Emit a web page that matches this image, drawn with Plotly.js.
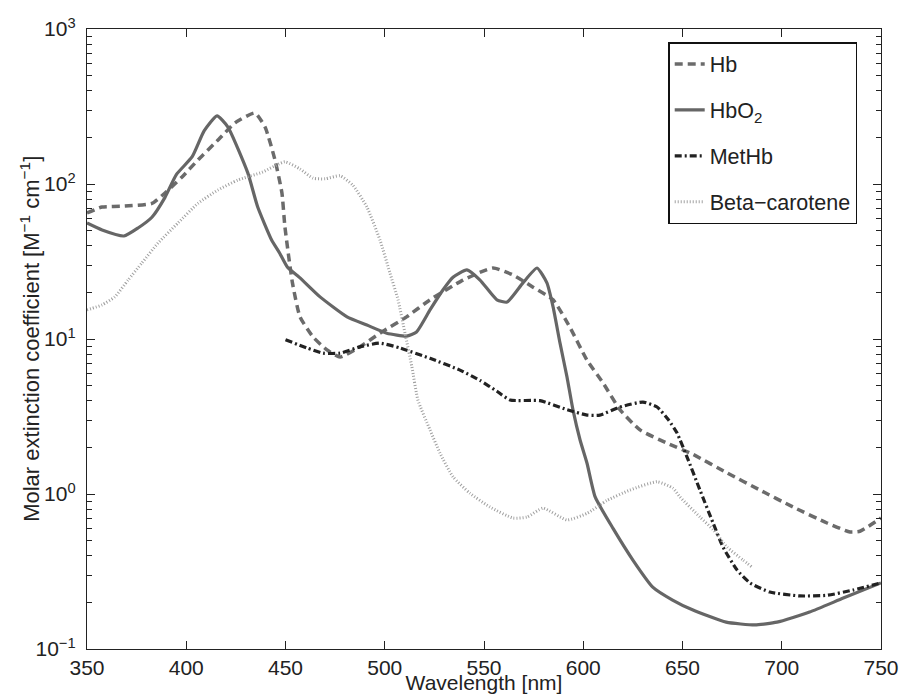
<!DOCTYPE html>
<html>
<head>
<meta charset="utf-8">
<script src="https://cdn.plot.ly/plotly-3.0.1.min.js"></script>
<style>html,body{margin:0;padding:0;background:#fff;}#chart{width:900px;height:694px;}</style>
</head>
<body>
<div id="chart"></div>
<script>
// Hb (deoxy-hemoglobin)
const hbWl  = [350,357.6,369,382.7,389.3,397.9,405.9,416,424.6,434.6,439.7,444.7,448.2,449.7,453.5,457.3,463.9,470.9,477.5,487.5,497.6,511,522.8,539.4,554.5,564.6,574.7,584.8,593.3,601.9,610,618.5,628.6,642.2,655.3,672.4,689,705.7,722.8,734.4,739.4,750];
const hbVal = [65,71,72,75,87.5,111,143,192,248,287,233,143,87.5,53,23,13.9,10.3,8.5,7.65,8.9,10.9,13.9,17.9,24,28.7,25.9,21.6,17.9,11.9,7.3,5.2,3.5,2.59,2.13,1.8,1.37,1.06,0.824,0.65,0.569,0.575,0.70];

// HbO2 (oxy-hemoglobin)
const hbo2Wl  = [350,357.6,368.6,375.7,382.7,389.3,395,403,409,415.5,421,431,436,443,447,451,457,467.4,481,491,501,511,516,522.8,529.3,534.4,541.4,548,556.5,561.6,569.6,576.7,581.7,584.8,588.3,591.8,594.8,598.4,601.9,606,615,625,635,645,655,672,686.5,697.6,714,731,750];
const hbo2Val = [56,50.5,46.2,52,61,82,115,150,220,275,233,118,71,43.5,35.9,29,25,18.7,13.9,12.3,10.9,10.45,11.1,15.4,20.7,25,27.9,24,17.9,17.3,23,28.7,23,16.1,9.4,5.7,3.5,2.23,1.58,0.957,0.6,0.375,0.251,0.207,0.179,0.149,0.143,0.149,0.173,0.213,0.267];

// MetHb
const metWl  = [450,460.8,468.9,477.5,487.5,497.6,507.7,522.8,537.9,548,556.5,563.1,578.2,591.8,601.9,608.4,618.5,630.1,637.2,643,647.2,652.3,658.8,665.4,670.4,677.5,684,694,709.2,722.8,735.9,750];
const metVal = [9.9,8.75,8.1,8.1,8.9,9.4,8.75,7.5,6.3,5.4,4.6,4.04,4.0,3.5,3.23,3.23,3.64,3.92,3.64,3.0,2.48,1.73,1.06,0.65,0.455,0.323,0.267,0.233,0.22,0.222,0.24,0.267];

// Beta-carotene
const betaWl  = [350,357.6,364,370.7,377.7,385.8,395.8,405.9,416,426,438.2,449.7,457.3,463.9,470,477.5,484,491,497.6,502.6,506.7,510.2,513.7,516.7,522.8,527.8,534.4,543,553,564.6,571.7,579.7,591.8,601.9,612,623.5,637.2,645.2,648.7,658.8,665.4,672.4,680.5,685];
const betaVal = [15.4,16.6,18.7,24,31,41.6,56,75,91.5,106,119,139,125,109,108,113,98,71,43.5,26.7,17.9,10.9,6.6,4.04,2.59,1.84,1.29,1.01,0.824,0.70,0.71,0.81,0.68,0.75,0.91,1.06,1.2,1.09,0.957,0.71,0.59,0.455,0.375,0.338];

const seriesNames = ["Hb", "HbO<sub>2</sub>", "MetHb", "Beta\u2212carotene"];
const xTicks = [350,400,450,500,550,600,650,700,750];
const yTicks = [0.1, 1, 10, 100, 1000];
const yTickText = ["10<sup>\u22121</sup>", "10<sup>0</sup>", "10<sup>1</sup>", "10<sup>2</sup>", "10<sup>3</sup>"];
const yTitle = "Molar extinction coefficient [M<sup>\u22121</sup> cm<sup>\u22121</sup>]";

// minor tick positions (2..9 within each decade)
const yMinor = [];
for (const d of [0.1, 1, 10, 100]) for (let k = 2; k <= 9; k++) yMinor.push(+(k * d).toPrecision(3));

const FONT = "Liberation Sans, Arial, Helvetica, sans-serif";

const traces = [
  {x: hbWl, y: hbVal, name: seriesNames[0], legendgroup: "a", mode: "lines",
   line: {color: "#6b6b6b", width: 3.5, dash: "8px,5px", shape: "spline", smoothing: 0.5}},
  {x: hbo2Wl, y: hbo2Val, name: seriesNames[1], legendgroup: "b", mode: "lines",
   line: {color: "#666666", width: 3.2, shape: "spline", smoothing: 0.5}},
  {x: metWl, y: metVal, name: seriesNames[2], legendgroup: "c", mode: "lines",
   line: {color: "#222222", width: 3.2, dash: "7px,3px,2px,3px", shape: "spline", smoothing: 0.5}},
  {x: betaWl, y: betaVal, name: seriesNames[3], legendgroup: "d", mode: "lines",
   line: {color: "#a0a0a0", width: 3, dash: "1px,2px", shape: "spline", smoothing: 0.5}}
];

const layout = {
  width: 900, height: 694,
  margin: {l: 87, r: 19, t: 29, b: 45, pad: 0},
  paper_bgcolor: "#ffffff", plot_bgcolor: "#ffffff",
  font: {family: FONT, size: 21, color: "#222"},
  showlegend: true,
  legend: {
    x: 0.732, y: 0.979, xanchor: "left", yanchor: "top",
    bordercolor: "#111", borderwidth: 1.5, bgcolor: "#fff",
    font: {family: FONT, size: 21.5, color: "#222"},
    traceorder: "grouped", tracegroupgap: 15
  },
  xaxis: {
    type: "linear", range: [350, 750], tickmode: "array", tickvals: xTicks, ticktext: xTicks.map(String),
    ticks: "inside", ticklen: 8, tickcolor: "#222", tickwidth: 1,
    showline: true, linecolor: "#222", linewidth: 1.2, mirror: "ticks",
    showgrid: false, zeroline: false,
    tickfont: {family: FONT, size: 21, color: "#222"},
    title: {text: "Wavelength [nm]", font: {family: FONT, size: 21, color: "#222"}, standoff: 0}
  },
  yaxis: {
    type: "log", range: [-1, 3], tickmode: "array", tickvals: yTicks, ticktext: yTickText,
    ticks: "inside", ticklen: 8, tickcolor: "#222", tickwidth: 1, ticklabelstandoff: 6,
    minor: {tickmode: "array", tickvals: yMinor, ticks: "inside", ticklen: 5, tickcolor: "#222", showgrid: false},
    showline: true, linecolor: "#222", linewidth: 1.2, mirror: "ticks",
    showgrid: false, zeroline: false,
    tickfont: {family: FONT, size: 21, color: "#222"}
  },
  annotations: [{
    text: yTitle, textangle: -90, showarrow: false,
    xref: "paper", yref: "paper", x: -0.072, y: 0.5, xanchor: "center", yanchor: "middle",
    font: {family: FONT, size: 22, color: "#222"}
  }]
};

Plotly.newPlot("chart", traces, layout, {displayModeBar: false, staticPlot: true});
</script>
</body>
</html>
